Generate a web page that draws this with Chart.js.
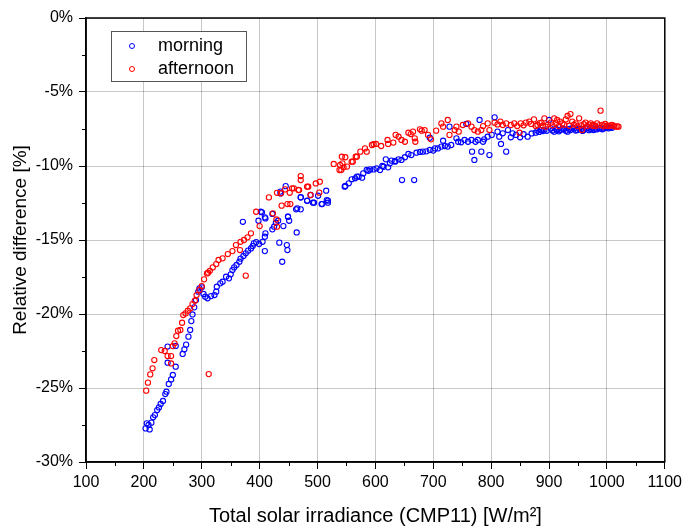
<!DOCTYPE html>
<html>
<head>
<meta charset="utf-8">
<script src="https://cdn.jsdelivr.net/npm/chart.js@4"></script>
<style>
  body { margin: 0; background: #fff; }
  canvas { display: block; }
</style>
</head>
<body>
<canvas id="scatter_chart" width="686" height="528"></canvas>
<script>
// values
const morningX = [203,205,208,210,213,216,219,223,226,229,233,237,239,241,241,243,247,250,255,255,
  267,270,273,277,280,282,284,287,290,294,296,300,303,306,310,316,322,325,326,332,
  336,342,347,350,353,356,360,365,367,371,372,376,380,385,388,390,394,398,399,402,
  404,405,409,409,409,410,410,422,422,425,428,432,434,436,436,439,441,445,447,448,
  449,449,451,463,464,465,471,471,471,482,482,488,492,494,501,507,508,515,516,518,
  518,547,548,554,559,565,568,571,577,579,585,588,591,597,602,608,612,614,618,622,
  625,628,634,634,640,645,646,651,657,662,667,671,677,682,688,694,694,700,703,708,
  714,717,720,725,728,731,740,743,748,754,757,760,766,767,771,773,777,780,783,786,
  788,794,797,801,806,811,814,817,820,826,829,834,837,843,850,856,863,870,877,880,
  883,886,889,892,896,900,903,906,909,912,914,917,920,923,926,929,932,935,937,940,
  943,946,949,952,955,958,960,963,966,969,972,975,977,980,983,986,989,992,995,998,
  1000,1003,1006,1009];
const morningY = [-27.73,-27.39,-27.5,-27.8,-27.34,-26.98,-26.83,-26.49,-26.31,-26.08,-25.88,-25.41,-25.25,-23.29,-22.2,-24.73,-24.42,-24.12,-23.56,-22.16,
  -22.7,-22.39,-22.07,-21.53,-21.08,-20.48,-20.03,-19.55,-19.06,-18.49,-18.27,-18.2,-18.65,-18.83,-18.94,-18.79,-18.72,-18.49,-18.16,-17.93,
  -17.82,-17.48,-17.59,-17.32,-17.03,-16.85,-16.69,-16.47,-16.26,-13.77,-16.08,-15.9,-15.72,-15.57,-15.41,-15.23,-15.14,-13.7,-15.27,-13.09,
  -13.13,-15.12,-14.78,-15.75,-13.47,-14.55,-13.54,-14.28,-13.24,-14.1,-13.83,-13.7,-15.18,-11.85,-11.73,-16.47,-14.06,-11.36,-15.34,-15.68,
  -13.43,-13.43,-13.7,-12.93,-14.49,-12.86,-12.93,-12.12,-12.11,-12.35,-12.34,-11.96,-12.48,-12.48,-12.01,-12.57,-12.57,-11.67,-12.3,-12.48,
  -12.34,-11.4,-11.35,-11.17,-10.9,-10.83,-10.72,-10.72,-10.79,-10.5,-10.27,-10.32,-10.23,-10.23,-10.16,-10.27,-10.0,-10.05,-9.55,-10.09,
  -9.82,-9.64,-9.66,-9.71,-9.55,-9.59,-10.95,-9.41,-9.19,-9.26,-10.95,-9.1,-9.05,-9.03,-9.01,-8.92,-8.09,-8.96,-8.81,-8.81,
  -8.69,-8.29,-8.65,-8.69,-7.34,-8.58,-8.13,-8.36,-8.4,-8.24,-7.16,-8.36,-8.24,-9.03,-9.59,-8.36,-8.24,-6.89,-9.03,-8.36,
  -8.2,-8.02,-9.26,-7.9,-6.71,-7.68,-8.02,-8.51,-7.79,-9.03,-7.57,-8.06,-7.79,-7.9,-8.06,-7.85,-8.02,-7.8,-7.75,-7.61,
  -7.7,-7.57,-7.64,-7.57,-7.62,-6.89,-7.46,-7.6,-7.68,-7.5,-7.57,-7.66,-7.57,-7.48,-7.52,-7.62,-7.68,-7.5,-7.57,-7.44,
  -7.46,-7.6,-7.57,-7.48,-7.52,-7.63,-7.57,-7.45,-7.46,-7.58,-7.52,-7.44,-7.57,-7.5,-7.52,-7.42,-7.46,-7.52,-7.46,-7.4,
  -7.39,-7.45,-7.39,-7.42];

const afternoonX = [204,207,211,215,218,230,236,241,247,247,250,253,256,259,263,266,268,272,276,280,
  284,288,291,296,300,304,309,311,312,314,319,325,329,336,345,353,359,366,367,373,
  376,379,385,394,400,416,423,429,430,430,437,438,444,448,452,453,456,459,467,468,
  471,471,482,484,488,497,503,504,528,538,539,541,542,543,545,548,551,559,561,566,
  568,574,582,585,594,597,601,610,621,622,631,635,640,645,651,657,661,665,668,669,
  677,680,685,691,696,705,714,717,725,728,737,740,744,751,760,766,771,777,783,786,
  794,797,806,811,816,820,826,834,840,845,849,851,856,860,866,869,874,877,880,884,
  887,889,892,894,898,903,906,909,912,914,917,919,923,926,929,932,935,937,940,943,
  946,949,952,955,957,960,963,966,969,972,975,977,980,983,986,989,992,994,997,1000,
  1003,1006,1009,1012,1015,1018,1020];
const afternoonY = [-25.18,-24.64,-24.08,-23.67,-23.11,-22.44,-22.5,-22.84,-22.84,-23.34,-22.17,-21.98,-21.49,-21.13,-21.08,-20.59,-20.07,-19.96,-19.78,-19.62,
  -19.33,-19.1,-18.72,-18.38,-18.11,-17.66,-17.26,-17.21,-24.06,-17.08,-16.85,-16.63,-16.35,-16.24,-15.95,-15.75,-15.34,-15.68,-15.12,-15.0,
  -17.41,-14.82,-14.55,-13.09,-14.06,-12.12,-13.2,-13.61,-14.1,-11.81,-11.84,-12.68,-11.58,-12.57,-11.81,-12.57,-11.51,-11.51,-11.62,-11.63,
  -10.68,-10.95,-11.4,-11.4,-11.96,-11.18,-11.8,-11.06,-9.86,-10.27,-9.93,-10.27,-9.37,-9.82,-10.09,-9.41,-10.04,-9.71,-9.71,-9.37,
  -9.37,-9.03,-8.81,-9.03,-8.58,-8.53,-8.51,-8.65,-8.24,-8.51,-8.42,-7.9,-8.02,-8.24,-8.36,-7.75,-7.84,-7.68,-8.13,-8.36,
  -7.52,-7.61,-7.57,-7.9,-8.2,-7.61,-7.12,-7.34,-6.89,-7.9,-7.57,-7.34,-7.68,-7.23,-7.12,-7.34,-7.57,-7.68,-7.57,-7.3,
  -7.12,-7.57,-7.07,-7.19,-7.0,-7.23,-7.12,-7.23,-7.12,-7.3,-7.75,-7.12,-7.25,-7.07,-7.0,-7.16,-6.85,-7.3,-7.23,-7.1,
  -7.07,-7.28,-6.78,-7.34,-7.2,-7.07,-7.25,-6.78,-7.12,-6.89,-7.3,-7.0,-7.12,-7.22,-6.85,-6.62,-7.28,-6.49,-7.0,-7.2,
  -7.12,-7.3,-6.78,-7.25,-7.57,-7.18,-7.07,-7.3,-7.2,-7.12,-7.28,-7.23,-7.3,-7.12,-7.25,-6.26,-7.23,-7.32,-7.16,-7.28,
  -7.3,-7.25,-7.23,-7.3,-7.34,-7.32,-7.34];

const xTickMin = 100, xTickMax = 1100, xStep = 100;
const yTickMin = -30, yTickMax = 0, yStep = 5;
const seriesNames = ['morning', 'afternoon'];
const seriesColors = ['#0000ff', '#ff0000'];

const toPoints = (xs, ys) => xs.map((x, i) => ({ x: x, y: ys[i] }));

const FONT = 'Liberation Sans, Arial, sans-serif';

// frame, minor ticks and the boxed legend
const extras = {
  id: 'extras',
  afterDraw(chart) {
    const c = chart.ctx, a = chart.chartArea;
    const sx = chart.scales.x, sy = chart.scales.y;
    c.save();
    c.strokeStyle = '#000';
    c.lineWidth = 1;
    c.beginPath();
    for (let v = xTickMin + xStep / 2; v < xTickMax; v += xStep) {
      const px = Math.round(sx.getPixelForValue(v)) + 0.5;
      c.moveTo(px, a.bottom); c.lineTo(px, a.bottom + 4);
    }
    for (let v = yTickMin + yStep / 2; v < yTickMax; v += yStep) {
      const py = Math.round(sy.getPixelForValue(v)) + 0.5;
      c.moveTo(a.left, py); c.lineTo(a.left - 4, py);
    }
    c.stroke();
    c.lineWidth = 1.5;
    c.strokeRect(a.left, a.top, a.right - a.left, a.bottom - a.top);

    // legend
    c.lineWidth = 1;
    c.strokeStyle = '#555';
    c.fillStyle = '#fff';
    c.fillRect(111.5, 31.5, 135, 50);
    c.strokeRect(111.5, 31.5, 135, 50);
    c.font = '18px ' + FONT;
    c.textBaseline = 'middle';
    seriesNames.forEach((name, i) => {
      const y = 46 + i * 23;
      c.strokeStyle = seriesColors[i];
      c.beginPath();
      c.arc(132, y, 2.5, 0, Math.PI * 2);
      c.stroke();
      c.fillStyle = '#000';
      c.fillText(name, 158, y);
    });
    c.restore();
  }
};

const ctx = document.getElementById('scatter_chart').getContext('2d');
const myChart = new Chart(ctx, {
  type: 'scatter',
  data: {
    datasets: [{
      label: seriesNames[0],
      data: toPoints(morningX, morningY),
      borderColor: seriesColors[0],
      backgroundColor: 'rgba(0,0,0,0)',
      pointRadius: 2.6,
      borderWidth: 1.1,
      order: 1
    }, {
      label: seriesNames[1],
      data: toPoints(afternoonX, afternoonY),
      borderColor: seriesColors[1],
      backgroundColor: 'rgba(0,0,0,0)',
      pointRadius: 2.6,
      borderWidth: 1.1,
      order: 0
    }]
  },
  options: {
    responsive: false,
    animation: false,
    devicePixelRatio: 1,
    layout: { padding: { top: 18, right: 18, left: 0, bottom: 0 } },
    plugins: { legend: { display: false }, tooltip: { enabled: false } },
    scales: {
      x: {
        type: 'linear',
        min: xTickMin, max: xTickMax,
        afterFit: (s) => { s.height = 66; },
        ticks: { stepSize: xStep, color: '#000', font: { family: FONT, size: 16 }, padding: 4, maxRotation: 0,
                 callback: (v) => String(v) },
        grid: { color: 'rgba(0,0,0,0.22)', tickColor: '#000', tickLength: 7 },
        border: { color: '#000', width: 1.5 },
        title: { display: true, text: 'Total solar irradiance (CMP11) [W/m²]', color: '#000',
                 font: { family: FONT, size: 20 }, padding: { top: 6, bottom: 0 } }
      },
      y: {
        min: yTickMin, max: yTickMax,
        afterFit: (s) => { s.width = 86; },
        ticks: { stepSize: yStep, color: '#000', font: { family: FONT, size: 16 }, padding: 6,
                 callback: (v) => v + '%' },
        grid: { color: 'rgba(0,0,0,0.22)', tickColor: '#000', tickLength: 7 },
        border: { color: '#000', width: 1.5 },
        title: { display: true, text: 'Relative difference [%]', color: '#000',
                 font: { family: FONT, size: 19 }, padding: { top: 9, bottom: 0 } }
      }
    }
  },
  plugins: [extras]
});
</script>
</body>
</html>
